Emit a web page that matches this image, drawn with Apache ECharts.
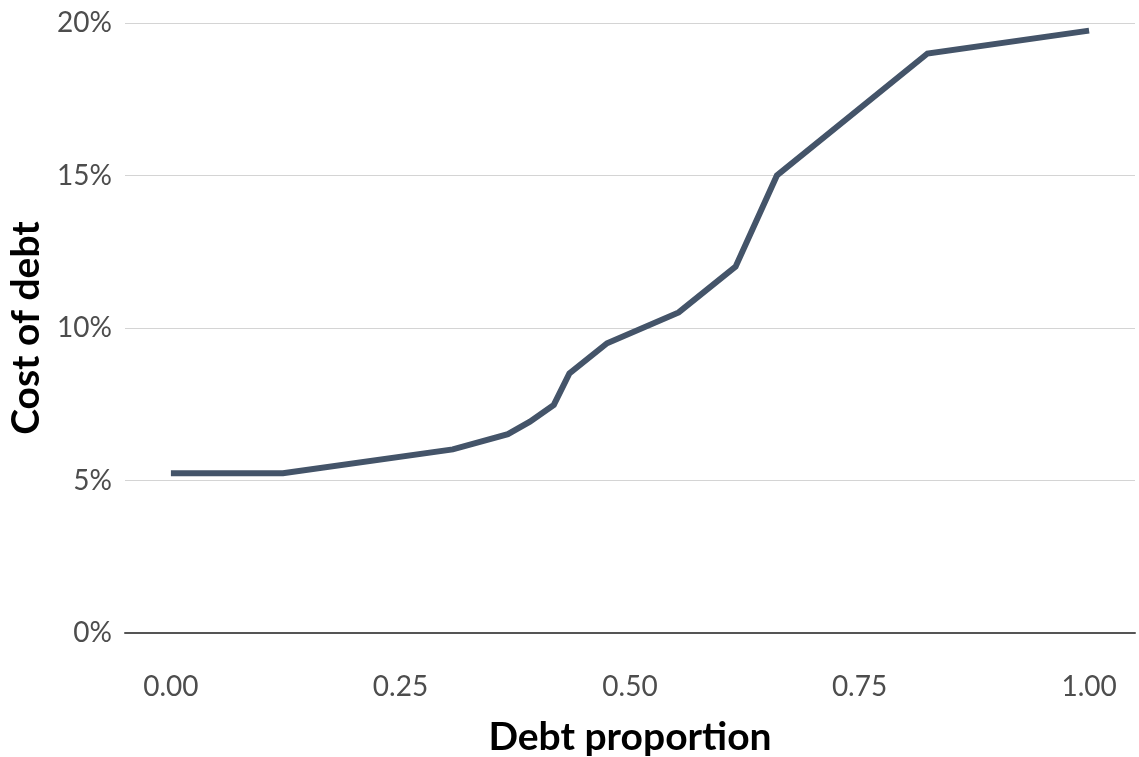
<!DOCTYPE html>
<html>
<head>
<meta charset="utf-8">
<script src="https://cdn.jsdelivr.net/npm/echarts@6/dist/echarts.min.js"></script>
<style>
html,body{margin:0;padding:0;background:#fff;}
#chart{width:1139px;height:757px;}
</style>
</head>
<body>
<div id="chart"></div>
<script>
const debtProportion = [0.000, 0.122, 0.307, 0.367, 0.391, 0.417, 0.434, 0.475, 0.553, 0.615, 0.660, 0.824, 1.000];
const costOfDebt     = [5.24, 5.24, 6.02, 6.52, 6.93, 7.48, 8.51, 9.50, 10.51, 12.01, 15.0, 19.0, 19.75];
const xTicks = [0, 0.25, 0.5, 0.75, 1.0];
const yTicks = [0, 5, 10, 15, 20];

const chart = echarts.init(document.getElementById('chart'), null, {renderer: 'canvas'});
chart.setOption({
  animation: false,
  backgroundColor: '#ffffff',
  grid: {left: 125, right: 4, top: 23, bottom: 124, containLabel: false, outerBoundsMode: 'none'},
  xAxis: {
    type: 'value',
    min: -0.05, max: 1.05,
    interval: 0.05,
    name: 'Debt proportion',
    nameLocation: 'middle',
    nameGap: 85,
    nameTextStyle: {fontFamily: 'Lato', fontWeight: 'bold', fontSize: 39, color: '#000'},
    axisLine: {show: true, onZero: true, lineStyle: {color: '#555555', width: 2}},
    axisTick: {show: false},
    splitLine: {show: false},
    axisLabel: {
      margin: 40,
      fontFamily: 'Lato', fontSize: 28, color: '#4d4d4d',
      showMinLabel: true, showMaxLabel: true,
      formatter: function (v) {
        for (const t of xTicks) { if (Math.abs(v - t) < 1e-6) return t.toFixed(2); }
        return '';
      }
    }
  },
  yAxis: {
    type: 'value',
    min: 0, max: 20, interval: 5,
    name: 'Cost of debt',
    nameLocation: 'middle',
    nameGap: 79,
    nameRotate: 90,
    nameTextStyle: {fontFamily: 'Lato', fontWeight: 'bold', fontSize: 39, color: '#000'},
    axisLine: {show: false},
    axisTick: {show: false},
    splitLine: {show: true, lineStyle: {color: '#d4d4d4', width: 1}},
    axisLabel: {
      margin: 13,
      fontFamily: 'Lato', fontSize: 28, color: '#4d4d4d',
      formatter: function (v) { return yTicks.includes(v) ? v + '%' : ''; }
    }
  },
  series: [{
    type: 'line',
    data: debtProportion.map((x, i) => [x, costOfDebt[i]]),
    showSymbol: false,
    symbol: 'none',
    lineStyle: {color: '#445469', width: 6, cap: 'butt', join: 'miter'},
    z: 3
  }]
});
</script>
</body>
</html>
